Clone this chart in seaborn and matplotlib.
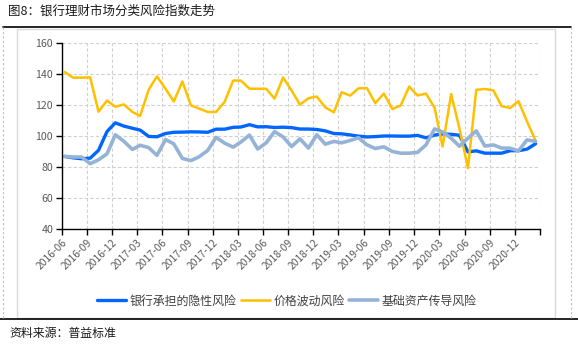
import matplotlib
matplotlib.use("Agg")
import matplotlib.pyplot as plt
from matplotlib.lines import Line2D
from matplotlib.patches import Rectangle
import seaborn as sns
import pandas as pd
import numpy as np

# ---------------- data ----------------
start_month = "2016-06"
n_months = 57
bank_risk = [86.9, 86.0, 85.4, 85.8, 90.8, 103.0, 108.6, 106.5, 105.1, 103.9,
             99.8, 99.6, 101.7, 102.5, 102.6, 102.8, 102.7, 102.5, 104.5, 104.5,
             105.7, 105.9, 107.4, 106.0, 106.1, 105.6, 105.8, 105.5, 104.6, 104.6,
             104.3, 103.4, 101.7, 101.5, 100.8, 100.0, 99.5, 99.7, 100.1, 100.1,
             100.0, 100.0, 100.5, 98.9, 100.7, 101.4, 101.2, 100.6, 89.8, 90.5,
             89.0, 89.0, 89.0, 90.6, 90.6, 91.6, 95.1]
price_risk = [141.4, 137.8, 137.8, 138.0, 115.8, 123.0, 119.0, 120.5, 115.6, 113.1,
              130.1, 138.6, 130.6, 122.4, 135.3, 119.9, 117.8, 115.6, 115.6, 122.1,
              135.9, 135.9, 130.7, 130.6, 130.6, 124.2, 137.9, 129.4, 120.4, 124.5,
              125.6, 118.6, 115.4, 128.4, 126.2, 130.9, 131.0, 121.3, 127.5, 117.5,
              119.8, 132.0, 126.3, 127.5, 118.3, 93.3, 127.2, 105.0, 79.3, 129.9,
              130.5, 129.6, 119.4, 118.2, 122.6, 109.5, 97.0]
asset_risk = [86.9, 86.5, 86.5, 82.2, 84.7, 88.6, 100.9, 96.7, 91.4, 94.1,
              92.6, 87.6, 97.8, 95.0, 85.6, 84.2, 86.7, 90.8, 99.2, 95.5,
              92.9, 96.2, 100.7, 91.7, 95.7, 102.9, 99.5, 93.3, 98.3, 92.3,
              100.9, 94.8, 96.6, 95.7, 97.2, 99.0, 94.4, 92.0, 93.1, 90.1,
              89.0, 89.0, 89.5, 94.4, 104.7, 102.7, 98.7, 93.5, 98.7, 103.4,
              93.6, 94.3, 92.3, 92.2, 90.5, 97.6, 96.6]
series_names = ["银行承担的隐性风险", "价格波动风险", "基础资产传导风险"]
series_colors = ["#0066FF", "#FFC000", "#95B3D7"]
series_widths = [2.4, 1.8, 2.6]
y_ticks = [40, 60, 80, 100, 120, 140, 160]
title = "图8：银行理财市场分类风险指数走势"
source = "资料来源：普益标准"

# ---------------- build frame ----------------
dates = pd.date_range(start_month, periods=n_months, freq="MS") + pd.Timedelta(days=12)
df = pd.DataFrame({"date": np.tile(dates, 3),
                   "value": bank_risk + price_risk + asset_risk,
                   "series": np.repeat(series_names, n_months)})

sns.set_theme(style="white")
cjk = ["Noto Sans CJK SC", "DejaVu Sans"]
plt.rcParams["font.family"] = cjk

fig = plt.figure(figsize=(5.78, 3.44), dpi=100)
ax = fig.add_axes([61.5 / 578, 1 - 229 / 344, (540 - 61.5) / 578, (229 - 43.3) / 344])

sns.lineplot(data=df, x="date", y="value", hue="series", hue_order=series_names,
             palette=series_colors, ax=ax, legend=False)
for line, w in zip(ax.get_lines(), series_widths):
    line.set_linewidth(w)
    line.set_solid_joinstyle("round")

# axes
x0 = pd.Timestamp("2016-06-01")
x1 = pd.Timestamp("2021-03-01")
ax.set_xlim(x0, x1)
ax.set_ylim(40, 160)
tick_dates = pd.date_range(x0, x1, freq="3MS")
ax.set_xticks(tick_dates)
ax.set_xticklabels([d.strftime("%Y-%m") if d < x1 else "" for d in tick_dates],
                   rotation=45, ha="right", rotation_mode="anchor",
                   fontsize=7.4, color="#595959")
ax.set_yticks(y_ticks)
ax.set_yticklabels([str(v) for v in y_ticks], fontsize=7.6, color="#595959")
ax.tick_params(axis="both", direction="out", length=4, width=1, color="black",
               pad=2, bottom=True, left=True)
ax.set_xlabel("")
ax.set_ylabel("")
ax.grid(True, color="#D0D0D0", linestyle=(0, (3, 2)), linewidth=0.8)
for s in ["top", "right"]:
    ax.spines[s].set_visible(False)
for s in ["left", "bottom"]:
    ax.spines[s].set_color("black")
    ax.spines[s].set_linewidth(1.0)

# legend
handles = [Line2D([0], [0], color=c, lw=w) for c, w in zip(series_colors, series_widths)]
fig.legend(handles, series_names, loc="center", bbox_to_anchor=(287 / 578, 1 - 301 / 344),
           ncol=3, frameon=False, fontsize=8.6, handlelength=2.4, handletextpad=0.3,
           columnspacing=0.4, labelcolor="#404040")

# decoration: title, rules, frames
fig.text(8 / 578, 1 - 11 / 344, title, fontsize=9, color="#1a1a1a", va="center", ha="left")
fig.text(9 / 578, 1 - 333 / 344, source, fontsize=8.6, color="#1a1a1a", va="center", ha="left")
fig.add_artist(Line2D([3 / 578, 571 / 578], [1 - 27.3 / 344] * 2, color="black", lw=1.2,
                      transform=fig.transFigure))
fig.add_artist(Line2D([0 / 578, 578 / 578], [1 - 319.3 / 344] * 2, color="black", lw=1.2,
                      transform=fig.transFigure))
fig.add_artist(Rectangle((17 / 578, 1 - 318 / 344), (555.3 - 17) / 578, (318 - 29.3) / 344,
                         fill=False, edgecolor="#D9D9D9", lw=1.0, transform=fig.transFigure))
for xv in [3.3, 571]:
    fig.add_artist(Line2D([xv / 578] * 2, [1 - 27.3 / 344, 1 - 319.3 / 344], color="#BFBFBF",
                          lw=0.8, linestyle=(0, (2, 2)), transform=fig.transFigure))

fig.savefig("out.png", dpi=100)
